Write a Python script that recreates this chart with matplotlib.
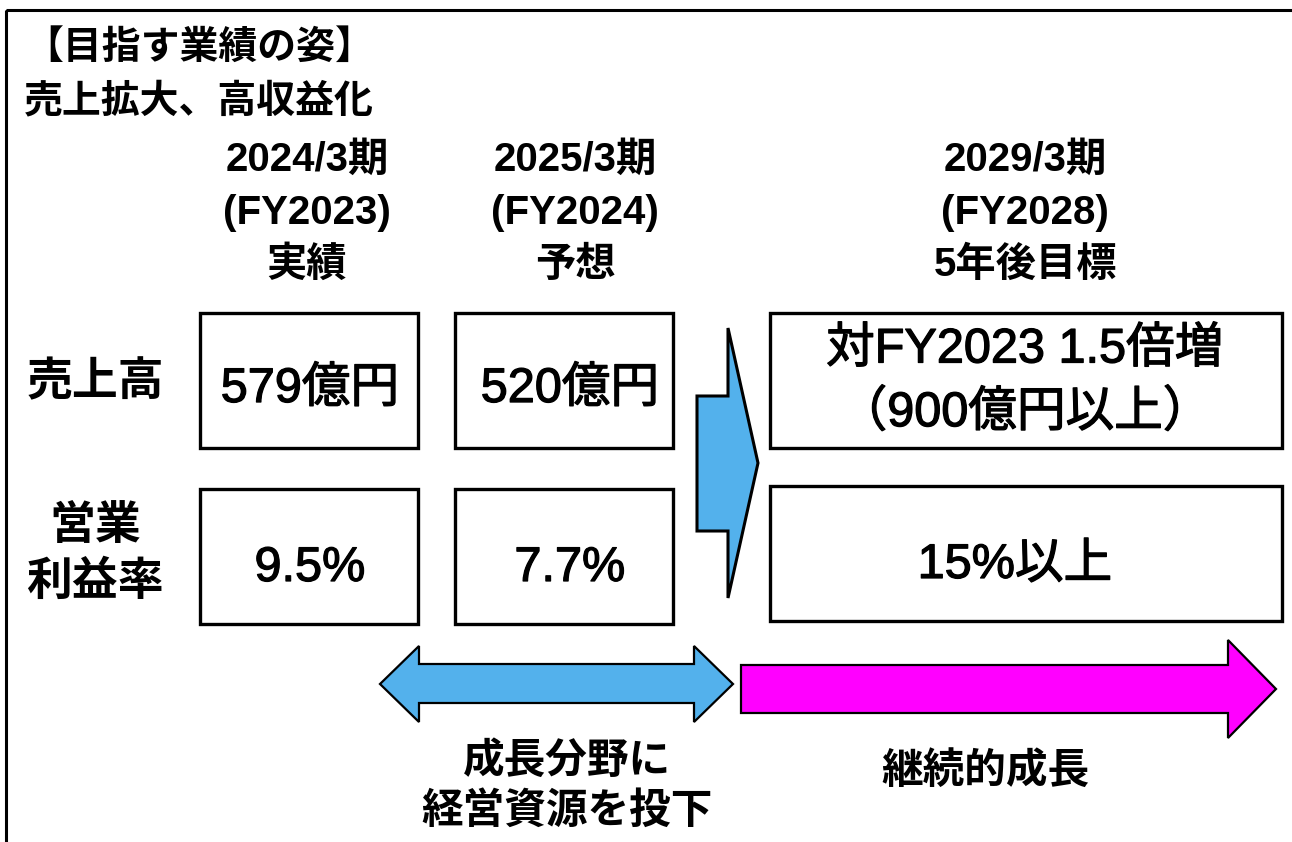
import matplotlib
matplotlib.use("Agg")
import matplotlib.pyplot as plt
import matplotlib.patheffects as pe
from matplotlib.patches import Rectangle, Polygon

# 英数字は Arial 風、和文は Noto
plt.rcParams['font.family'] = ['Liberation Sans', 'Noto Sans CJK JP', 'DejaVu Sans']

# データ
title_lines = ["【目指す業績の姿】", "売上拡大、高収益化"]
period_headers = [
    ["2024/3期", "(FY2023)", "実績"],
    ["2025/3期", "(FY2024)", "予想"],
    ["2029/3期", "(FY2028)", "5年後目標"],
]
row_labels = [["売上高"], ["営業", "利益率"]]
sales_values = [["579億円"], ["520億円"], ["対FY2023 1.5倍増", "（900億円以上）"]]
margin_values = [["9.5%"], ["7.7%"], ["15%以上"]]
invest_caption = ["成長分野に", "経営資源を投下"]
growth_caption = ["継続的成長"]

# レイアウト (ピクセル座標)
W, H = 1292, 842
col_x = [(200, 418), (455, 673), (770, 1282)]
row_y = [[(313, 448), (313, 448), (313, 448)],
         [(489, 624), (489, 624), (486, 621)]]
header_cx = [307, 575, 1025]
header_y = [160, 213, 265]
value_cx = [310, 570, 1025]
blue = "#53B1EC"
magenta = "#FF00FF"
thick = [pe.withStroke(linewidth=0.9, foreground="black")]

fig = plt.figure(figsize=(W / 100, H / 100), dpi=100)
ax = fig.add_axes([0, 0, 1, 1])
ax.set_xlim(0, W)
ax.set_ylim(H, 0)
ax.axis("off")

# 外枠
ax.add_patch(Rectangle((6, 10), W + 20, H + 20, fill=False, lw=2.2, ec="black"))

# タイトル
for i, t in enumerate(title_lines):
    ax.text(24, 48 + i * 54, t, fontsize=28, fontweight="bold", ha="left", va="center")

# 期間見出し
for cx, lines in zip(header_cx, period_headers):
    for y, t in zip(header_y, lines):
        ax.text(cx, y, t, fontsize=29, fontweight="bold", ha="center", va="center")

# 行ラベル
ax.text(95, 383, row_labels[0][0], fontsize=33, fontweight="bold", ha="center", va="center")
for i, t in enumerate(row_labels[1]):
    ax.text(95, 527 + i * 56, t, fontsize=33, fontweight="bold", ha="center", va="center")

# 箱
for r in range(2):
    for c in range(3):
        x0, x1 = col_x[c]
        y0, y1 = row_y[r][c]
        ax.add_patch(Rectangle((x0, y0), x1 - x0, y1 - y0, fill=False, lw=2.4, ec="black"))

# 売上高の値
for c, lines in enumerate(sales_values):
    y0, y1 = row_y[0][c]
    if len(lines) == 1:
        ax.text(value_cx[c], (y0 + y1) / 2 + 9, lines[0], fontsize=35,
                ha="center", va="center", path_effects=thick)
    else:
        for i, t in enumerate(lines):
            ax.text(value_cx[c], 350 + i * 63, t, fontsize=35,
                    ha="center", va="center", path_effects=thick)

# 営業利益率の値
for c, lines in enumerate(margin_values):
    y0, y1 = row_y[1][c]
    ax.text(value_cx[c] - (10 if c == 2 else 0), (y0 + y1) / 2 + 12, lines[0],
            fontsize=35, ha="center", va="center", path_effects=thick)

# 右向きシェブロン
chev = [(728, 328), (758, 463), (728, 598), (728, 531), (697, 531),
        (697, 396), (728, 396)]
ax.add_patch(Polygon(chev, closed=True, fc=blue, ec="black", lw=2.2, joinstyle="miter"))

# 両方向矢印
dbl = [(380, 684), (419, 646), (419, 664), (694, 664), (694, 646), (733, 684),
       (694, 722), (694, 703), (419, 703), (419, 722)]
ax.add_patch(Polygon(dbl, closed=True, fc=blue, ec="black", lw=1.6, joinstyle="miter"))

# 継続的成長の矢印
grow = [(741, 665), (1228, 665), (1228, 640), (1276, 689), (1228, 738),
        (1228, 713), (741, 713)]
ax.add_patch(Polygon(grow, closed=True, fc=magenta, ec="black", lw=1.6, joinstyle="miter"))

# キャプション
for i, t in enumerate(invest_caption):
    ax.text(567, 762 + i * 50, t, fontsize=30, fontweight="bold", ha="center", va="center")
ax.text(985, 772, growth_caption[0], fontsize=30, fontweight="bold", ha="center", va="center")

fig.savefig("out.png", dpi=100, facecolor="white")
